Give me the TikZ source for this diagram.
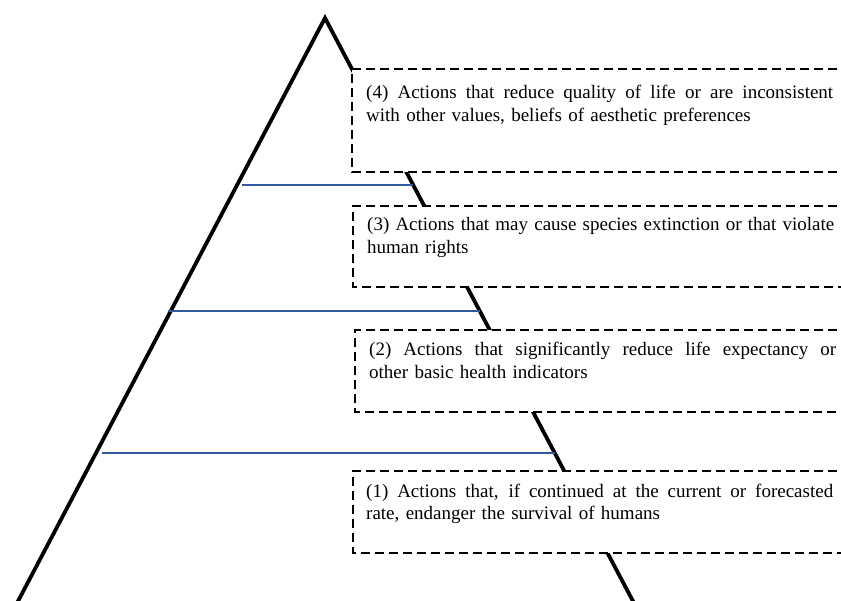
\documentclass[tikz,border=0pt]{standalone}
\usepackage{fontspec}
\setmainfont{Liberation Serif}
\definecolor{lvlblue}{RGB}{50,88,160}
\newlength{\boxtextwd}
\setlength{\boxtextwd}{467pt}
\newcommand{\fullline}[1]{\makebox[\boxtextwd][s]{\spaceskip=0pt\xspaceskip=0pt\relax #1}}
\begin{document}
\begin{tikzpicture}[x=1pt,y=-1pt,
  edge/.style={line width=3.8pt, line join=miter},
  level/.style={draw=lvlblue, line width=1.6pt},
  panel/.style={draw=black, fill=white, line width=2.2pt, dash pattern=on 9pt off 5pt},
  boxtext/.style={anchor=base west, inner sep=0pt, text width=\boxtextwd, align=left,
    font=\fontsize{19}{22.5}\selectfont}]
\useasboundingbox (0,0) rectangle (841,601);
\clip (0,0) rectangle (841,601);
% pyramid
\coordinate (apex) at (325,18);
\coordinate (bl) at (16,605);
\coordinate (br) at (635,605);
\draw[edge] (bl) -- (apex) -- (br);
% level lines
\coordinate (l1a) at (242,185); \coordinate (l1b) at (413,185);
\coordinate (l2a) at (168,311); \coordinate (l2b) at (480,311);
\coordinate (l3a) at (102,453); \coordinate (l3b) at (555,453);
\draw[level] (l1a) -- (l1b);
\draw[level] (l2a) -- (l2b);
\draw[level] (l3a) -- (l3b);
% dashed panels (open to the right)
\draw[panel] (851,69) -- (352,69) -- (352,172) -- (851,172);
\draw[panel] (851,206) -- (353,206) -- (353,287) -- (851,287);
\draw[panel] (851,330) -- (355,330) -- (355,412) -- (851,412);
\draw[panel] (851,471) -- (353,471) -- (353,553) -- (851,553);
% texts
\node[boxtext] (t4) at (366,99) {\fullline{(4) Actions that reduce quality of life or are inconsistent}\\with other values, beliefs of aesthetic preferences};
\node[boxtext] (t3) at (367,231) {\fullline{(3) Actions that may cause species extinction or that violate}\\human rights};
\node[boxtext] (t2) at (369,356) {\fullline{(2) Actions that significantly reduce life expectancy or}\\other basic health indicators};
\node[boxtext] (t1) at (366,497) {\fullline{(1) Actions that, if continued at the current or forecasted}\\rate, endanger the survival of humans};
\end{tikzpicture}
\end{document}
